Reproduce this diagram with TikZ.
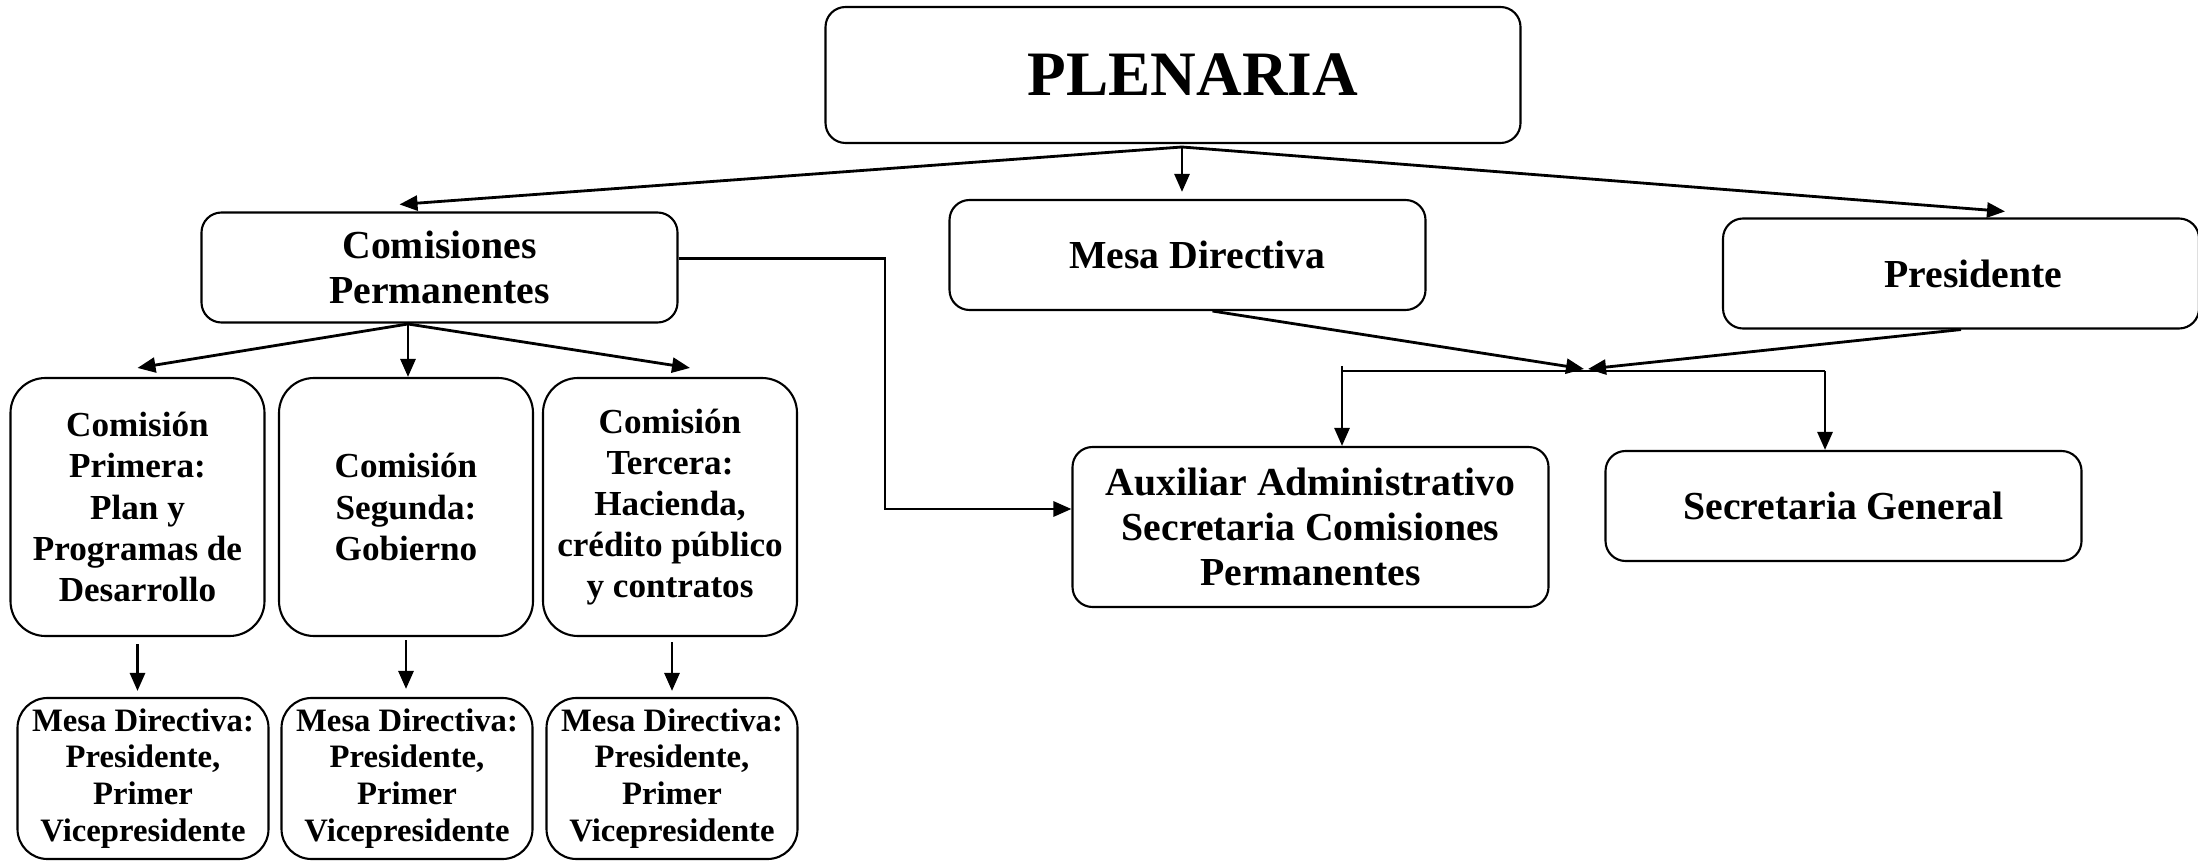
\documentclass[tikz,border=0pt]{standalone}
\usepackage{fontspec}
\setmainfont{Liberation Serif}
\usetikzlibrary{arrows.meta}

\begin{document}
\begin{tikzpicture}[
	>={Triangle[length=1.8mm,width=1.5mm]},
	line width=0.8pt,
	caja/.style={draw, rounded corners=2mm, line width=0.6pt, align=center, inner sep=0pt,
		minimum width=4.76cm, minimum height=1.1cm, font=\bfseries\fontsize{11.3}{12.8}\selectfont},
	com/.style={caja, rounded corners=3.5mm, minimum width=2.54cm, minimum height=2.58cm,
		font=\bfseries\fontsize{10}{11.7}\selectfont},
	mesa/.style={caja, rounded corners=3mm, minimum width=2.51cm, minimum height=1.61cm,
		font=\bfseries\fontsize{9.3}{10.5}\selectfont}
]
	\useasboundingbox (0,0) rectangle (21.98,-8.61);
	\node[caja, minimum width=6.95cm, minimum height=1.36cm, font=\bfseries\fontsize{18}{20}\selectfont] (P) at (11.73,-0.75) {\hspace*{4mm}PLENARIA};
	\node[caja] (CP) at (4.395,-2.675) {Comisiones\\Permanentes};
	\node[caja] (MD) at (11.875,-2.55) {\hspace*{2mm}Mesa Directiva};
	\node[caja] (Pr) at (19.61,-2.735) {\hspace*{2.5mm}Presidente};
	\node[com] (C1) at (1.375,-5.07) {Comisión\\Primera:\\Plan y\\Programas de\\Desarrollo};
	\node[com] (C2) at (4.06,-5.07) {Comisión\\Segunda:\\Gobierno};
	\node[com] (C3) at (6.70,-5.07) {Comisión\\Tercera:\\Hacienda,\\crédito público\\y contratos};
	\node[mesa] (M1) at (1.43,-7.785) {Mesa Directiva:\\Presidente,\\Primer\\Vicepresidente};
	\node[mesa] (M2) at (4.07,-7.785) {Mesa Directiva:\\Presidente,\\Primer\\Vicepresidente};
	\node[mesa] (M3) at (6.72,-7.785) {Mesa Directiva:\\Presidente,\\Primer\\Vicepresidente};
	\node[caja, minimum height=1.6cm] (AA) at (13.105,-5.27) {Auxiliar Administrativo\\Secretaria Comisiones\\Permanentes};
	\node[caja] (SG) at (18.435,-5.06) {Secretaria General};
	\coordinate (o) at (11.82,-1.47);
	\coordinate (cs) at (4.08,-3.24);
	\coordinate (j) at (15.86,-3.69);
	\coordinate (l) at (13.42,-3.71);
	\coordinate (r) at (18.25,-3.71);
	\coordinate (k) at (8.85,-5.09);
	\draw [->] (o) -- ([xshift=-4mm,yshift=0.7mm]CP.north);
	\draw [->] (o) -- ([yshift=0.7mm]MD.north -| o);
	\draw [->] (o) -- ([xshift=4.4mm,yshift=0.6mm]Pr.north);
	\draw [->] (cs) -- ([yshift=0.9mm]C1.north);
	\draw [->] (cs) -- (cs |- C2.north);
	\draw [->] (cs) -- ([xshift=2mm,yshift=0.9mm]C3.north);
	\draw [->, shorten <=0.7mm, shorten >=0.6mm] (C1.south) -- (C1.south |- M1.north);
	\draw [->, shorten <=0.3mm, shorten >=0.8mm] (C2.south) -- (C2.south |- M2.north);
	\draw [->, shorten <=0.5mm, shorten >=0.6mm] (C3.south -| M3.north) -- (M3.north);
	\draw [->] ([yshift=0.9mm]CP.east) -| (k) -- (k -| AA.west);
	\draw [->] ([xshift=2.5mm]MD.south) -- ([xshift=-0.2mm]j);
	\draw [->] (Pr.south) -- ([xshift=0.2mm]j);
	\draw [-] ([yshift=0.5mm]l) -- (l) -- (r);
	\draw [->] (l) -- (l |- AA.north);
	\draw [->] (r) -- (r |- SG.north);
\end{tikzpicture}
\end{document}
